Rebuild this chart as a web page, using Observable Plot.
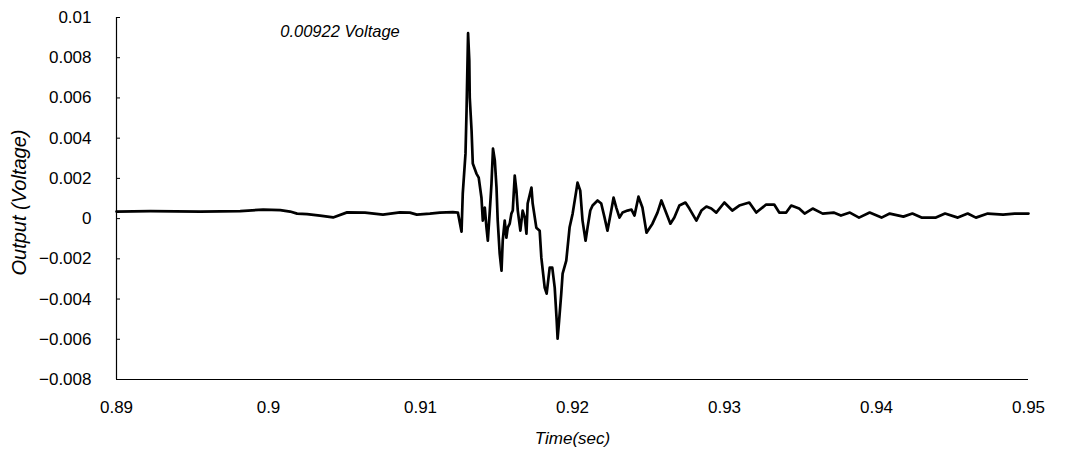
<!DOCTYPE html>
<html>
<head>
<meta charset="utf-8">
<script src="https://cdn.jsdelivr.net/npm/d3@7"></script>
<script src="https://cdn.jsdelivr.net/npm/@observablehq/plot@0.6"></script>
<style>
  html, body { margin: 0; padding: 0; background: #fff; }
</style>
</head>
<body>
<div id="chart"></div>
<script>
const time = [
  0.89000, 0.89223, 0.89552, 0.89814, 0.89965, 0.90077, 0.90142, 0.90188, 0.90254, 0.90339,
  0.90425, 0.90517, 0.90635, 0.90753, 0.90865, 0.90930, 0.90976, 0.91062, 0.91127, 0.91213,
  0.91246, 0.91270, 0.91278, 0.91296, 0.91303, 0.91313, 0.91321, 0.91324, 0.91336, 0.91344,
  0.91368, 0.91383, 0.91401, 0.91410, 0.91423, 0.91434, 0.91443, 0.91456, 0.91467, 0.91477,
  0.91489, 0.91500, 0.91508, 0.91521, 0.91533, 0.91541, 0.91554, 0.91565, 0.91574, 0.91587,
  0.91598, 0.91607, 0.91620, 0.91631, 0.91640, 0.91657, 0.91672, 0.91686, 0.91697, 0.91705,
  0.91730, 0.91738, 0.91762, 0.91784, 0.91795, 0.91817, 0.91830, 0.91850, 0.91867, 0.91883,
  0.91896, 0.91902, 0.91912, 0.91926, 0.91935, 0.91959, 0.91981, 0.92001, 0.92025, 0.92033,
  0.92051, 0.92066, 0.92086, 0.92099, 0.92117, 0.92132, 0.92165, 0.92189, 0.92211, 0.92230,
  0.92255, 0.92270, 0.92288, 0.92309, 0.92329, 0.92362, 0.92388, 0.92408, 0.92434, 0.92460,
  0.92487, 0.92526, 0.92559, 0.92585, 0.92618, 0.92644, 0.92670, 0.92703, 0.92743, 0.92769,
  0.92815, 0.92848, 0.92881, 0.92913, 0.92946, 0.92999, 0.93051, 0.93097, 0.93163, 0.93209,
  0.93274, 0.93327, 0.93360, 0.93406, 0.93439, 0.93491, 0.93527, 0.93580, 0.93646, 0.93718,
  0.93766, 0.93825, 0.93885, 0.93955, 0.94033, 0.94087, 0.94177, 0.94236, 0.94296, 0.94391,
  0.94451, 0.94535, 0.94600, 0.94654, 0.94732, 0.94833, 0.94909, 0.95000
];
const voltage = [
  0.00035, 0.00037, 0.00035, 0.00037, 0.00045, 0.00042, 0.00035, 0.00025, 0.00022, 0.00015,
  0.00006, 0.00031, 0.00030, 0.00020, 0.00031, 0.00030, 0.00020, 0.00025, 0.00030, 0.00032,
  0.00030, -0.00065, 0.00124, 0.00323, 0.00537, 0.00922, 0.00786, 0.00602, 0.00438, 0.00274,
  0.00224, 0.00204, 0.00104, -0.00010, 0.00055, -0.00045, -0.00110, 0.00040, 0.00174, 0.00348,
  0.00289, 0.00154, -0.00010, -0.00174, -0.00259, -0.00110, -0.00010, -0.00095, -0.00045, -0.00025,
  0.00025, 0.00040, 0.00214, 0.00139, 0.00040, -0.00060, 0.00040, 0.00005, -0.00075, 0.00075,
  0.00154, 0.00075, -0.00045, -0.00060, -0.00194, -0.00343, -0.00373, -0.00244, -0.00244, -0.00343,
  -0.00507, -0.00597, -0.00507, -0.00373, -0.00274, -0.00209, -0.00043, 0.00025, 0.00139, 0.00179,
  0.00139, -0.00010, -0.00110, -0.00045, 0.00040, 0.00065, 0.00090, 0.00075, 0.00005, -0.00060,
  0.00040, 0.00104, 0.00055, 0.00005, 0.00030, 0.00040, 0.00045, 0.00015, 0.00109, 0.00055,
  -0.00070, -0.00025, 0.00030, 0.00090, 0.00025, -0.00025, 0.00005, 0.00065, 0.00080, 0.00050,
  -0.00010, 0.00040, 0.00060, 0.00050, 0.00030, 0.00080, 0.00040, 0.00065, 0.00080, 0.00030,
  0.00070, 0.00070, 0.00030, 0.00030, 0.00065, 0.00050, 0.00025, 0.00050, 0.00025, 0.00030,
  0.00015, 0.00030, 0.00005, 0.00030, 0.00005, 0.00025, 0.00010, 0.00025, 0.00005, 0.00005,
  0.00025, 0.00005, 0.00025, 0.00005, 0.00025, 0.00020, 0.00025, 0.00025
];
const xTicks = [0.89, 0.90, 0.91, 0.92, 0.93, 0.94, 0.95];
const xTickLabels = ["0.89", "0.9", "0.91", "0.92", "0.93", "0.94", "0.95"];
const yTicks = [0.01, 0.008, 0.006, 0.004, 0.002, 0, -0.002, -0.004, -0.006, -0.008];
const yTickLabels = ["0.01", "0.008", "0.006", "0.004", "0.002", "0", "\u22120.002", "\u22120.004", "\u22120.006", "\u22120.008"];
const annotationText = ["0.00922 Voltage"];
const annotationX = [0.90077];
const annotationY = [0.0093];
const xLabel = "Time(sec)";
const yLabel = "Output (Voltage)";

const data = time.map((t, i) => ({t, v: voltage[i]}));
const xDomain = [xTicks[0], xTicks[xTicks.length - 1]];
const yDomain = [yTicks[yTicks.length - 1], yTicks[0]];
const ann = annotationText.map((s, i) => ({s, x: annotationX[i], y: annotationY[i]}));

const chart = Plot.plot({
  width: 1080,
  height: 456,
  marginTop: 17,
  marginBottom: 77,
  marginLeft: 116,
  marginRight: 52,
  style: {fontFamily: "'Liberation Sans', Arial, sans-serif", fontSize: "17px", color: "#000", background: "#fff"},
  x: {domain: xDomain},
  y: {domain: yDomain},
  marks: [
    Plot.gridY(yTicks, {stroke: "#000", strokeOpacity: 1, strokeWidth: 1, insetRight: 908}),
    Plot.ruleX([xDomain[0]], {stroke: "#000", strokeWidth: 1.2}),
    Plot.ruleY([yDomain[0]], {stroke: "#000", strokeWidth: 1.2}),
    Plot.axisY({
      ticks: yTicks,
      tickFormat: (d) => yTickLabels[yTicks.indexOf(d)],
      tickSize: 0,
      tickPadding: 25,
      label: null,
      fontSize: 17
    }),
    Plot.axisX({
      ticks: xTicks,
      tickFormat: (d) => xTickLabels[xTicks.indexOf(d)],
      tickSize: 0,
      tickPadding: 21,
      label: null,
      fontSize: 17
    }),
    Plot.text([yLabel], {frameAnchor: "left", dx: -97, dy: 4, rotate: -90, textAnchor: "middle", lineAnchor: "middle", fontStyle: "italic", fontSize: 20}),
    Plot.text([xLabel], {frameAnchor: "bottom", dy: 59, textAnchor: "middle", lineAnchor: "middle", fontStyle: "italic", fontSize: 17}),
    Plot.line(data, {x: "t", y: "v", stroke: "#000", strokeWidth: 2.7, strokeLinejoin: "round"}),
    Plot.text(ann, {x: "x", y: "y", text: "s", textAnchor: "start", fontStyle: "italic", fontSize: 16.5})
  ]
});
document.getElementById("chart").appendChild(chart);
</script>
</body>
</html>
